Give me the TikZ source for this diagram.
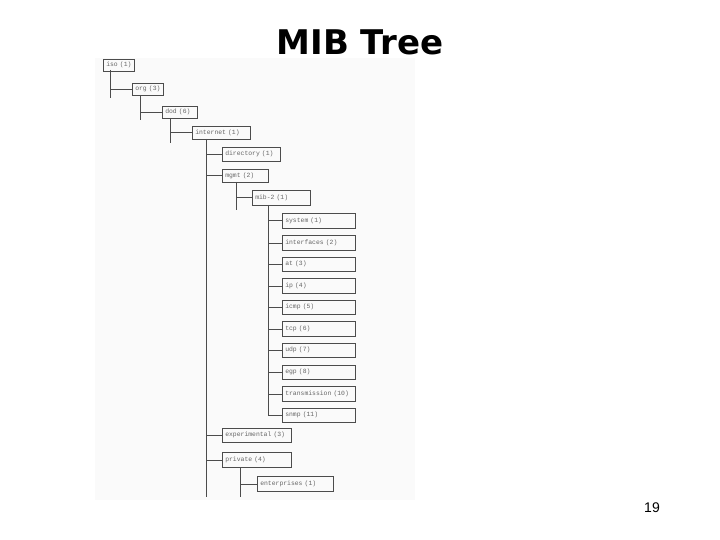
\documentclass[tikz,border=0pt]{standalone}
\usepackage{fontspec}
\setmainfont{Liberation Sans}
\newfontfamily\monof{Liberation Mono}
\newfontfamily\titlef{DejaVu Sans}
\begin{document}
\begin{tikzpicture}[x=1pt,y=-1pt,
  bx/.style={draw=black!70,line width=0.6pt,inner sep=0pt,anchor=north west,font=\monof\fontsize{6.4}{7}\selectfont,text=black!60,align=left},
  ln/.style={draw=black!70,line width=0.6pt}]
\useasboundingbox (0,0) rectangle (720,540);
\fill[black!2] (95,58) rectangle (415,500);
\node[font=\titlef\bfseries\fontsize{34}{34}\selectfont] (title) at (360,42) {MIB Tree};
\node[font=\fontsize{14}{14}\selectfont] (pg) at (652,508) {19};
\newcommand{\mibbox}[6]{\node[bx,minimum height=#5,text width={#4pt-6pt},inner xsep=3pt] (#1) at (#2,#3) {\mbox{#6}};}
\mibbox{iso}{103}{59}{31}{12}{iso (1)}
\mibbox{org}{132}{83}{31}{12}{org (3)}
\mibbox{dod}{162}{106}{35}{12}{dod (6)}
\mibbox{inet}{192}{126}{58}{13}{internet (1)}
\mibbox{dir}{222}{147}{58}{14}{directory (1)}
\mibbox{mgmt}{222}{169}{46}{13}{mgmt (2)}
\mibbox{mib}{252}{190}{58}{15}{mib-2 (1)}
\mibbox{m1}{282}{213}{73}{15}{system (1)}
\mibbox{m2}{282}{235}{73}{15}{interfaces (2)}
\mibbox{m3}{282}{257}{73}{14}{at (3)}
\mibbox{m4}{282}{278}{73}{15}{ip (4)}
\mibbox{m5}{282}{300}{73}{14}{icmp (5)}
\mibbox{m6}{282}{321}{73}{15}{tcp (6)}
\mibbox{m7}{282}{343}{73}{14}{udp (7)}
\mibbox{m8}{282}{365}{73}{14}{egp (8)}
\mibbox{m9}{282}{386}{73}{15}{transmission (10)}
\mibbox{m10}{282}{408}{73}{14}{snmp (11)}
\mibbox{exp}{222}{428}{69}{14}{experimental (3)}
\mibbox{priv}{222}{452}{69}{15}{private (4)}
\mibbox{ent}{257}{476}{76}{15}{enterprises (1)}
\draw[ln] (110,70) -- (110,98); \draw[ln] (110,0 |- org.west) -- (org.west);
\draw[ln] (140,95) -- (140,120); \draw[ln] (140,0 |- dod.west) -- (dod.west);
\draw[ln] (170,118) -- (170,143); \draw[ln] (170,0 |- inet.west) -- (inet.west);
\draw[ln] (206,139) -- (206,497);
\foreach \n in {dir,mgmt,exp,priv} \draw[ln] (206,0 |- \n.west) -- (\n.west);
\draw[ln] (236,182) -- (236,210); \draw[ln] (236,0 |- mib.west) -- (mib.west);
\draw[ln] (268,205) -- (268,415);
\foreach \n in {m1,m2,m3,m4,m5,m6,m7,m8,m9,m10} \draw[ln] (268,0 |- \n.west) -- (\n.west);
\draw[ln] (240,467) -- (240,497); \draw[ln] (240,0 |- ent.west) -- (ent.west);
\end{tikzpicture}
\end{document}
